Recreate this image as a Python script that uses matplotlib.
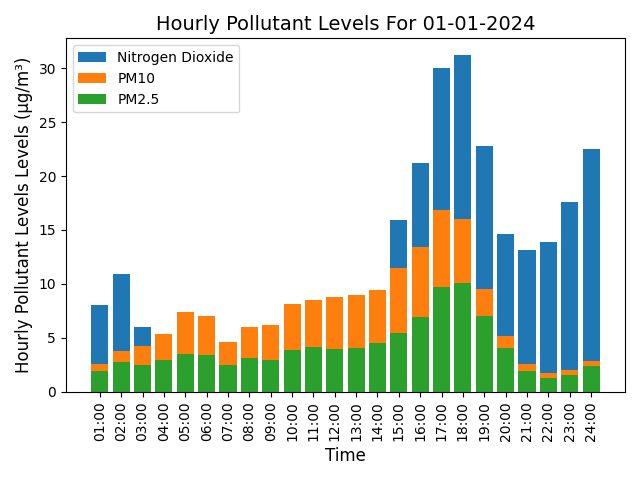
import matplotlib
matplotlib.use("Agg")
import matplotlib.pyplot as plt

hours = [f"{h:02d}:00" for h in range(1, 25)]
no2 = [8.06, 10.93, 6.02, 0, 0, 0, 0, 0, 0, 0, 0, 0, 0, 0,
       15.93, 21.2, 30.0, 31.2, 22.78, 14.63, 13.15, 13.89, 17.59, 22.5]
pm10 = [2.62, 3.8, 4.26, 5.37, 7.41, 7.04, 4.63, 6.02, 6.2, 8.15, 8.52, 8.8, 8.98, 9.44,
        11.48, 13.43, 16.85, 16.02, 9.54, 5.19, 2.59, 1.76, 2.04, 2.87]
pm25 = [1.94, 2.78, 2.5, 2.96, 3.52, 3.43, 2.5, 3.15, 2.96, 3.89, 4.17, 3.98, 4.07, 4.54,
        5.46, 6.94, 9.72, 10.09, 7.04, 4.07, 1.94, 1.3, 1.57, 2.41]

fig, ax = plt.subplots(figsize=(6.4, 4.8), dpi=100)
ax.bar(hours, no2, label="Nitrogen Dioxide", color="#1f77b4")
ax.bar(hours, pm10, label="PM10", color="#ff7f0e")
ax.bar(hours, pm25, label="PM2.5", color="#2ca02c")
ax.set_title("Hourly Pollutant Levels For 01-01-2024", fontsize=14)
ax.set_xlabel("Time", fontsize=12)
ax.set_ylabel("Hourly Pollutant Levels Levels (µg/m³)", fontsize=12)
plt.xticks(rotation=90)
ax.legend(loc="upper left")
fig.tight_layout()
fig.savefig("out.png")
